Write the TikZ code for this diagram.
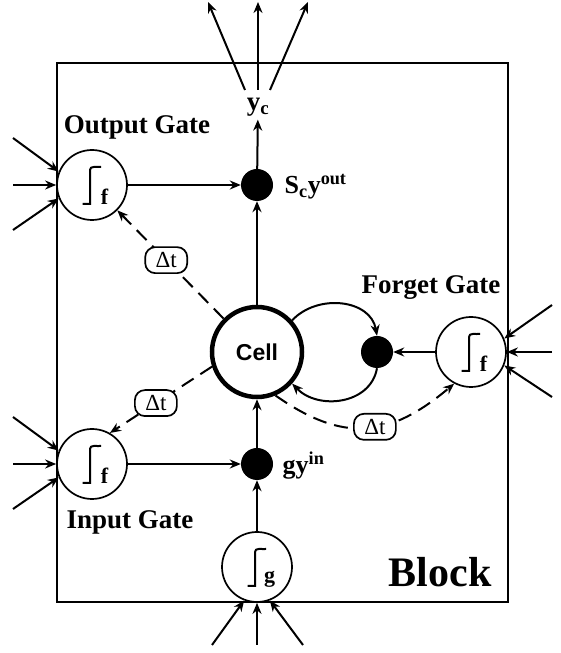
\documentclass[tikz,border=0pt]{standalone}
\usepackage{fontspec}
\setmainfont{Liberation Serif}
\newfontfamily\cellfont{Liberation Sans}
\usetikzlibrary{arrows.meta, positioning}
% squashing function drawn inside a gate
\newcommand{\stepfn}[2]{%
  \draw[line width=2pt] ([shift={(-9.5,-19)}]#1.center) -- ++(7.5,0) -- ++(0,34)
    to[out=90,in=185] ++(11,3);
  \node[font=\bfseries\fontsize{22}{22}\selectfont] at ([shift={(12.5,-12)}]#1.center) {#2};}

\begin{document}
\begin{tikzpicture}[x=1pt, y=1pt,
  gate/.style={circle, draw, fill=white, line width=1.7pt, minimum size=70pt, inner sep=0pt},
  kernel/.style={circle, fill=black, minimum size=32pt, inner sep=0pt},
  cellnode/.style={circle, draw, fill=white, line width=4.5pt, minimum size=90pt, inner sep=0pt,
    font=\cellfont\bfseries\fontsize{23}{23}\selectfont},
  dtbox/.style={draw, solid, fill=white, rounded corners=10pt, line width=1.7pt, minimum width=42pt,
    minimum height=26pt, inner sep=0pt, font=\fontsize{23}{23}\selectfont},
  lbl/.style={font=\bfseries\fontsize{27}{27}\selectfont},
  arr/.style={-{Stealth[length=11pt, width=9pt]}, line width=2pt},
  dasharr/.style={arr, dash pattern=on 14pt off 8pt}
]
\useasboundingbox (0,0) rectangle (561,653);
% --- block ---
\draw[line width=1.7pt] (57,51) rectangle (508,590);
\node[font=\bfseries\fontsize{42}{42}\selectfont] (block) at (440,81) {Block};
% --- gates and cell ---
\node[gate] (og) at (92,468) {};
\node[gate] (ig) at (92,189) {};
\node[gate] (fg) at (471,301) {};
\node[gate] (gg) at (257,86) {};
\stepfn{og}{f} \stepfn{ig}{f} \stepfn{fg}{f} \stepfn{gg}{g}
\node[cellnode] (cell) at (257,301) {Cell};
\node[kernel] (od) at (257,468) {};
\node[kernel] (id) at (257,189) {};
\node[kernel] (fd) at (377,301) {};
\node[lbl] (olbl) at (137,526) {Output Gate};
\node[lbl] (ilbl) at (130,131) {Input Gate};
\node[lbl] (flbl) at (431,365) {Forget Gate};
\node[lbl, font=\bfseries\fontsize{26}{26}\selectfont, right=8pt of od, yshift=-2pt] (sy)
  {S\textsubscript{c}y\textsuperscript{out}};
\node[lbl, font=\bfseries\fontsize{26}{26}\selectfont, right=6pt of id, yshift=-2pt] (gy)
  {gy\textsuperscript{in}};
\node[font=\bfseries\fontsize{27}{27}\selectfont] (yc) at (258,546) {y\textsubscript{c}};
% --- connections inside the block ---
\draw[arr] (og) -- (od);
\draw[arr] (ig) -- (id);
\draw[arr] (fg) -- (fd);
\draw[arr] (gg) -- (id);
\draw[arr] (id) -- (cell);
\draw[arr] (cell) -- (od);
\draw[arr] (od) -- (yc);
\draw[arr] (cell.42) to[out=47, in=100, looseness=1.1] (fd.north);
\draw[arr] (fd.south) to[out=-100, in=-46, looseness=1.1] (cell.-42);
\draw[dasharr] (cell.135) -- node[dtbox, pos=0.54] (dto) {Δt} (og.-45);
\draw[dasharr] (cell.198) -- node[dtbox, pos=0.55] (dti) {Δt} (ig.60);
\draw[dasharr] (cell.-67) to[out=-35, in=-140, looseness=1.2]
  node[dtbox, pos=0.55] (dtf) {Δt} (fg.-118);
% --- outside inputs and outputs ---
\coordinate (oi1) at (13,515); \coordinate (oi2) at (13,468); \coordinate (oi3) at (13,423);
\coordinate (ii1) at (13,236); \coordinate (ii2) at (13,189); \coordinate (ii3) at (13,144);
\coordinate (fi1) at (552,348); \coordinate (fi2) at (552,301); \coordinate (fi3) at (552,256);
\coordinate (gi1) at (212,8); \coordinate (gi2) at (257,8); \coordinate (gi3) at (303,8);
\draw[arr] (oi1) -- (og.158); \draw[arr] (oi2) -- (og.west); \draw[arr] (oi3) -- (og.202);
\draw[arr] (ii1) -- (ig.158); \draw[arr] (ii2) -- (ig.west); \draw[arr] (ii3) -- (ig.202);
\draw[arr] (fi1) -- (fg.22); \draw[arr] (fi2) -- (fg.east); \draw[arr] (fi3) -- (fg.-22);
\draw[arr] (gi1) -- (gg.-111); \draw[arr] (gi2) -- (gg.south); \draw[arr] (gi3) -- (gg.-69);
\coordinate (yo1) at (245,563); \coordinate (yo2) at (258,563); \coordinate (yo3) at (270,563);
\coordinate (ye1) at (208,651); \coordinate (ye2) at (258,651); \coordinate (ye3) at (308,651);
\draw[arr] (yo1) -- (ye1); \draw[arr] (yo2) -- (ye2); \draw[arr] (yo3) -- (ye3);
\end{tikzpicture}
\end{document}
